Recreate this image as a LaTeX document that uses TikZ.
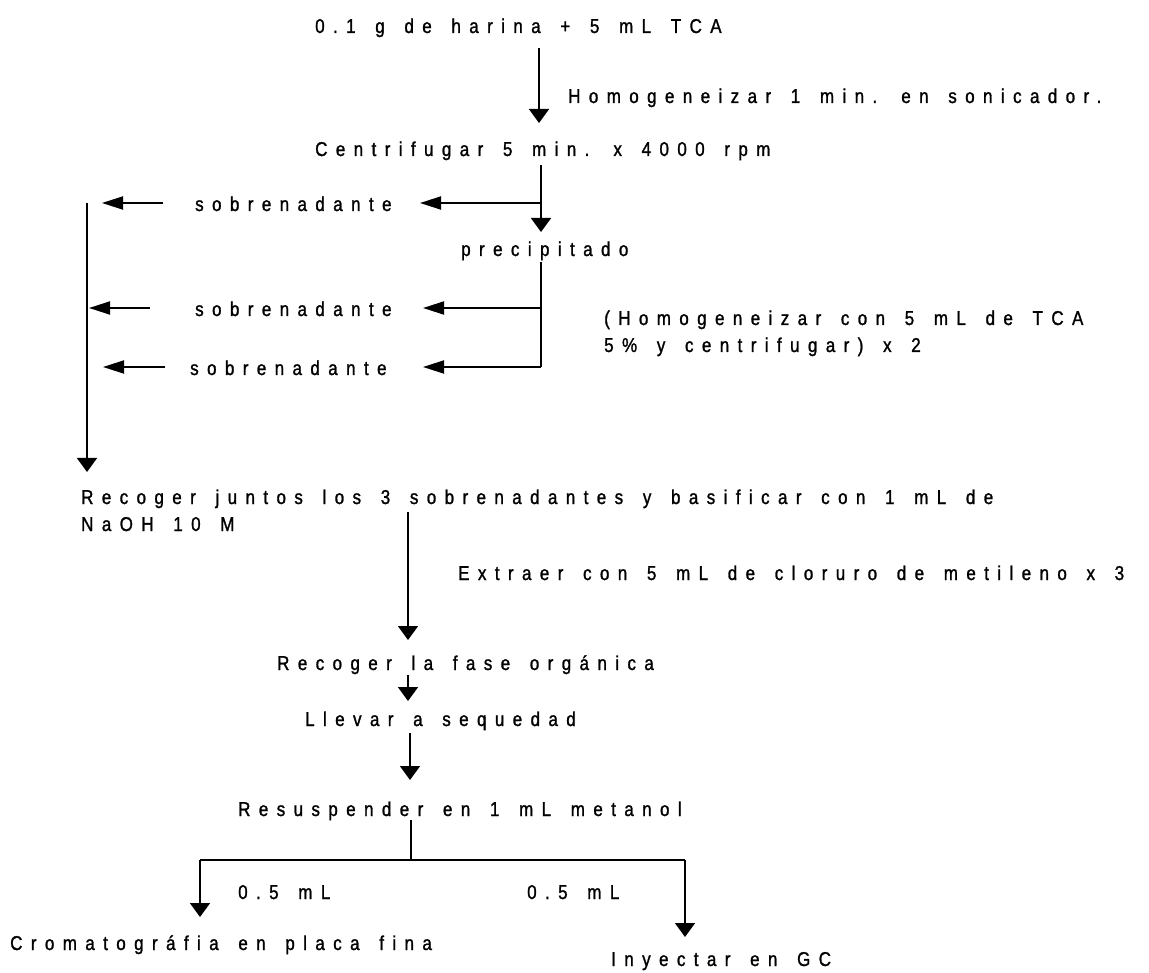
\documentclass[tikz,border=0pt]{standalone}
\usepackage{fontspec}
\setmainfont{Liberation Sans}[FakeStretch=0.85,FakeBold=1.3,LetterSpace=42,WordSpace=1.5]
\usetikzlibrary{arrows.meta}
\begin{document}
\begin{tikzpicture}[x=1pt,y=-1pt,
  txt/.style={anchor=base west,inner sep=0pt,align=left,font=\fontsize{20}{27}\selectfont},
  ln/.style={line width=1.8pt},
  varr/.style={line width=1.8pt,-{Triangle[width=20pt,length=14pt]}},
  harr/.style={line width=1.8pt,-{Triangle[width=13pt,length=21pt]}}]
\useasboundingbox (0,0) rectangle (1149,973);
% texts (multi-line nodes: base = last line)
\node[txt] (t1) at (315,33) {0.1 g de harina + 5 mL TCA};
\node[txt] (h1) at (568,103) {Homogeneizar 1 min. en sonicador.};
\node[txt] (c1) at (315,156) {Centrifugar 5 min. x 4000 rpm};
\node[txt] (s1) at (195,211) {sobrenadante};
\node[txt] (p1) at (461,256) {precipitado};
\node[txt] (s2) at (195,316) {sobrenadante};
\node[txt] (s3) at (190,375) {sobrenadante};
\node[txt] (hc) at (604,352) {(Homogeneizar con 5 mL de TCA\\5\% y centrifugar) x 2};
\node[txt] (rj) at (81,531) {Recoger juntos los 3 sobrenadantes y basificar con 1 mL de\\NaOH 10 M};
\node[txt] (ex) at (458,580) {Extraer con 5 mL de cloruro de metileno x 3};
\node[txt] (rf) at (277,670) {Recoger la fase orgánica};
\node[txt] (ll) at (305,726) {Llevar a sequedad};
\node[txt] (rs) at (238,816) {Resuspender en 1 mL metanol};
\node[txt] (v1) at (238,899) {0.5 mL};
\node[txt] (v2) at (527,899) {0.5 mL};
\node[txt] (cr) at (10,950) {Cromatográfia en placa fina};
\node[txt] (gc) at (611,966) {Inyectar en GC};
% connector points
\coordinate (a1s) at (539,48);  \coordinate (a1e) at (539,123);
\coordinate (a2s) at (541,165); \coordinate (a2e) at (541,232);
\coordinate (b1) at (541,203);  \coordinate (b1e) at (420,203);
\coordinate (l1s) at (163,203); \coordinate (l1e) at (102,203);
\coordinate (a3s) at (541,262); \coordinate (b2) at (541,308); \coordinate (b3) at (541,367);
\coordinate (b2e) at (423,308); \coordinate (b3e) at (423,367);
\coordinate (l2s) at (150,308); \coordinate (l2e) at (89,308);
\coordinate (l3s) at (165,367); \coordinate (l3e) at (103,367);
\coordinate (cls) at (87,203);  \coordinate (cle) at (87,472);
\coordinate (a4s) at (408,512); \coordinate (a4e) at (408,640);
\coordinate (a5s) at (408,675); \coordinate (a5e) at (408,701);
\coordinate (a6s) at (410,733); \coordinate (a6e) at (410,780);
\coordinate (st) at (411,820);  \coordinate (sb) at (411,860);
\coordinate (bl) at (200,860);  \coordinate (br) at (685,860);
\coordinate (ble) at (200,917); \coordinate (bre) at (685,937);
% connectors
\draw[varr] (a1s) -- (a1e);
\draw[varr] (a2s) -- (a2e);
\draw[harr] (b1) -- (b1e);
\draw[harr] (l1s) -- (l1e);
\draw[ln] (a3s) -- (b3);
\draw[harr] (b2) -- (b2e);
\draw[harr] (b3) -- (b3e);
\draw[harr] (l2s) -- (l2e);
\draw[harr] (l3s) -- (l3e);
\draw[varr] (cls) -- (cle);
\draw[varr] (a4s) -- (a4e);
\draw[varr] (a5s) -- (a5e);
\draw[varr] (a6s) -- (a6e);
\draw[ln] (st) -- (sb);
\draw[ln] (bl) -- (br);
\draw[varr] (bl) -- (ble);
\draw[varr] (br) -- (bre);
\end{tikzpicture}
\end{document}
